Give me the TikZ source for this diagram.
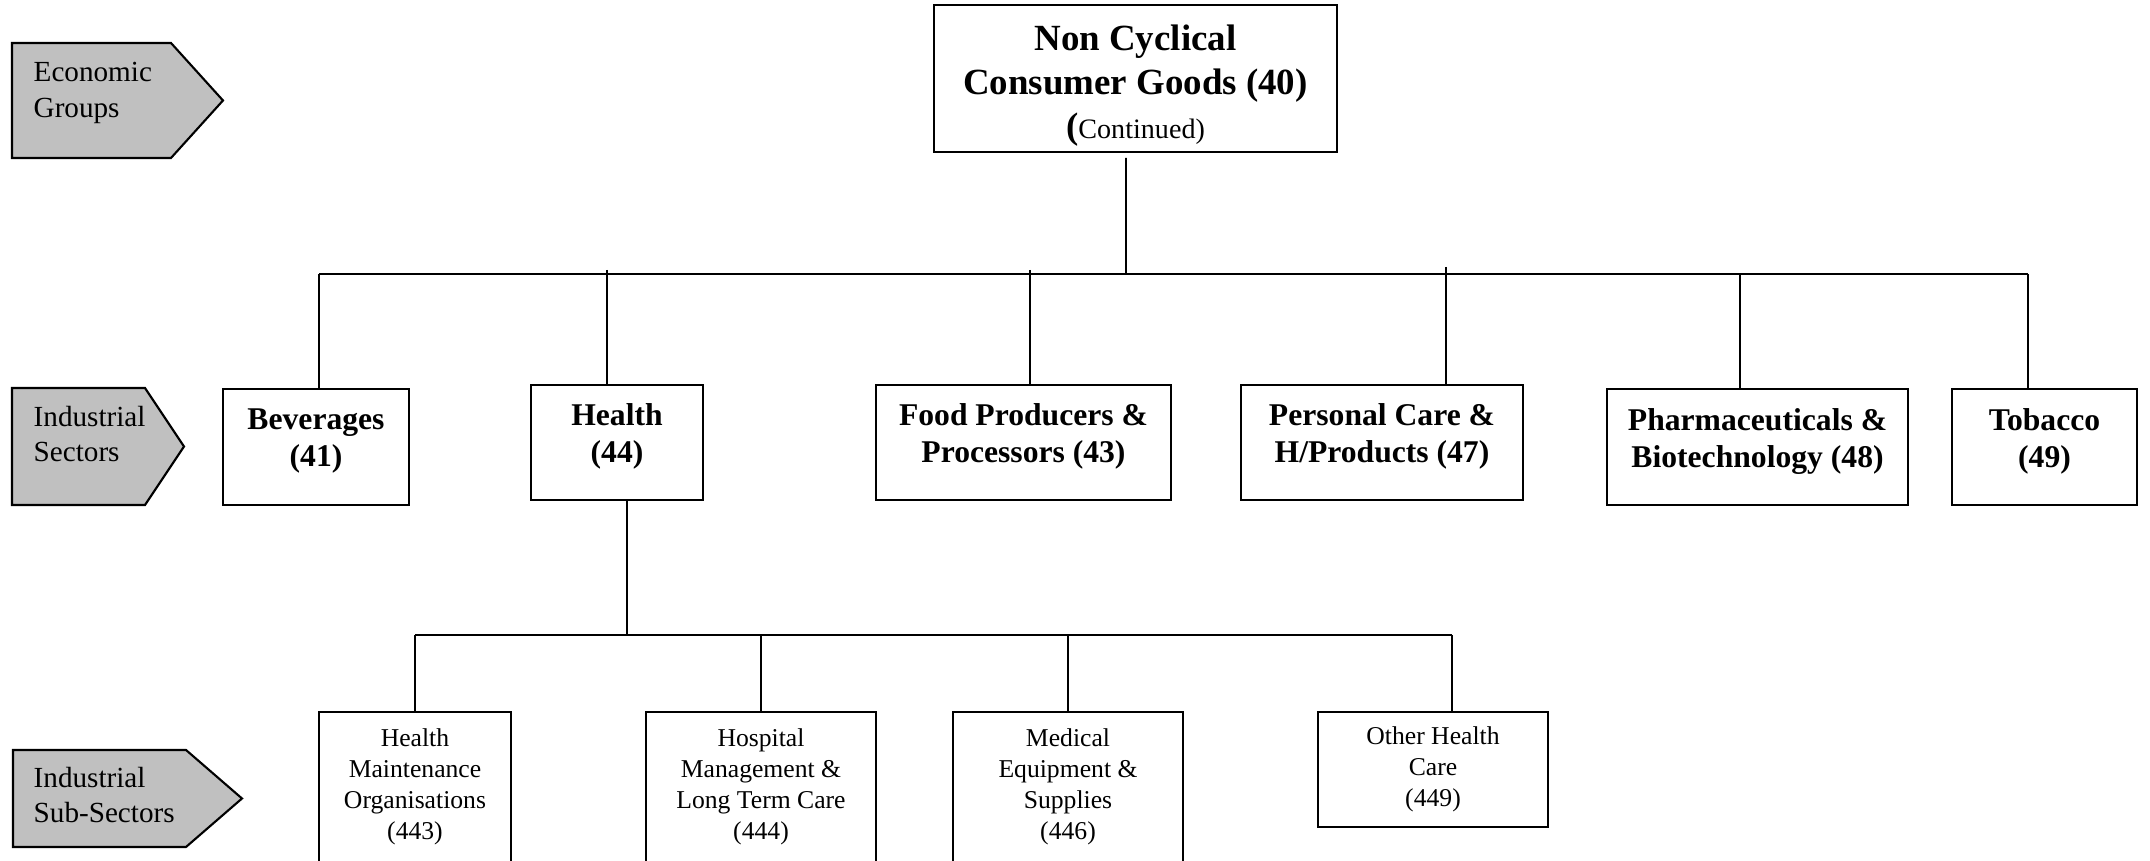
\documentclass[tikz,border=0pt]{standalone}
\usepackage{fontspec}
\setmainfont{Liberation Serif}
\usetikzlibrary{positioning}
\definecolor{levelgray}{RGB}{192,192,192}
\tikzstyle{every box} = [draw, line width=0.6pt, inner sep=0pt, outer sep=0pt, align=center]
\tikzstyle{groupbox} = [rectangle, every box, font=\fontsize{10.5}{12.5}\selectfont\bfseries]
\tikzstyle{sectorbox} = [rectangle, every box, minimum height=1.15cm, font=\fontsize{9}{10.5}\selectfont\bfseries,
                         execute at end node={\rule[-5.2pt]{0pt}{5.2pt}}]
\tikzstyle{subbox} = [rectangle, every box, anchor=north, font=\fontsize{7.3}{8.8}\selectfont]
\tikzstyle{lift} = [execute at end node={\rule[-4.4pt]{0pt}{4.4pt}}]
\tikzstyle{levelbox} = [draw, line width=0.6pt, fill=levelgray]
\tikzstyle{leveltext} = [inner sep=0pt, anchor=west, align=left, font=\fontsize{8.3}{10}\selectfont]
\tikzstyle{link} = [draw, line width=0.5pt]

\begin{document}
\begin{tikzpicture}
                    \useasboundingbox (0,0) rectangle (21.5,8.61);

                    \draw[levelbox] (0.12,8.18) -- (1.71,8.18) -- (2.23,7.605) -- (1.71,7.03) -- (0.12,7.03) -- cycle;
                    \node[leveltext] (econ) at (0.33,7.68) {Economic\\Groups};
                    \draw[levelbox] (0.12,4.73) -- (1.45,4.73) -- (1.84,4.145) -- (1.45,3.56) -- (0.12,3.56) -- cycle;
                    \node[leveltext] (indsec) at (0.33,4.27) {Industrial\\Sectors};
                    \draw[levelbox] (0.13,1.11) -- (1.86,1.11) -- (2.42,0.625) -- (1.86,0.14) -- (0.13,0.14) -- cycle;
                    \node[leveltext] (indsub) at (0.33,0.66) {Industrial\\Sub-Sectors};

                    \node[groupbox, minimum width=4.03cm, minimum height=1.47cm] (ncg) at (11.355,7.825)
                        {\rule{0pt}{11.4pt}Non Cyclical\\Consumer Goods (40)\\[-0.1pt]{\bfseries(}{\fontsize{8}{9.6}\selectfont\mdseries Continued)}};

                    \node[sectorbox, minimum width=1.86cm, minimum height=1.16cm] (bev) at (3.16,4.14) {Beverages\\(41)};
                    \node[sectorbox, minimum width=1.72cm] (health) at (6.17,4.185) {Health\\(44)};
                    \node[sectorbox, minimum width=2.95cm] (food) at (10.235,4.185) {Food Producers \&\\Processors (43)};
                    \node[sectorbox, minimum width=2.82cm] (pers) at (13.82,4.185) {Personal Care \&\\H/Products (47)};
                    \node[sectorbox, minimum width=3.01cm, minimum height=1.16cm] (pharma) at (17.575,4.14) {Pharmaceuticals \&\\Biotechnology (48)};
                    \node[sectorbox, minimum width=1.85cm, minimum height=1.16cm] (tob) at (20.445,4.14) {Tobacco\\(49)};

                    \node[subbox, lift, minimum width=1.92cm, minimum height=1.6cm] (hmo) at (4.15,1.49) {Health\\Maintenance\\Organisations\\(443)};
                    \node[subbox, lift, minimum width=2.30cm, minimum height=1.6cm] (hosp) at (7.61,1.49) {Hospital\\Management \&\\Long Term Care\\(444)};
                    \node[subbox, lift, minimum width=2.30cm, minimum height=1.6cm] (med) at (10.68,1.49) {Medical\\Equipment \&\\Supplies\\(446)};
                    \node[subbox, minimum width=2.30cm, minimum height=1.15cm] (other) at (14.33,1.49) {Other Health\\Care\\(449)};

                    \coordinate (top) at (11.26,5.87);
                    \coordinate (b1) at (3.19,5.87);
                    \coordinate (b2) at (6.07,5.91);
                    \coordinate (b3) at (10.30,5.91);
                    \coordinate (b4) at (14.46,5.94);
                    \coordinate (b5) at (17.40,5.87);
                    \coordinate (b6) at (20.28,5.87);
                    \draw[link] ([xshift=-0.095cm,yshift=-0.06cm]ncg.south) -- (top);
                    \draw[link] (b1) -- (b6);
                    \draw[link] (b1) -- (b1 |- bev.north);
                    \draw[link] (b2) -- (b2 |- health.north);
                    \draw[link] (b3) -- (b3 |- food.north);
                    \draw[link] (b4) -- (b4 |- pers.north);
                    \draw[link] (b5) -- (b5 |- pharma.north);
                    \draw[link] (b6) -- (b6 |- tob.north);

                    \coordinate (h) at (6.27,2.26);
                    \coordinate (s1) at (4.15,2.26);
                    \coordinate (s2) at (7.61,2.26);
                    \coordinate (s3) at (10.68,2.26);
                    \coordinate (s4) at (14.52,2.26);
                    \draw[link] (h |- health.south) -- (h);
                    \draw[link] (s1) -- (s4);
                    \draw[link] (s1) -- (s1 |- hmo.north);
                    \draw[link] (s2) -- (s2 |- hosp.north);
                    \draw[link] (s3) -- (s3 |- med.north);
                    \draw[link] (s4) -- (s4 |- other.north);
                \end{tikzpicture}
\end{document}
